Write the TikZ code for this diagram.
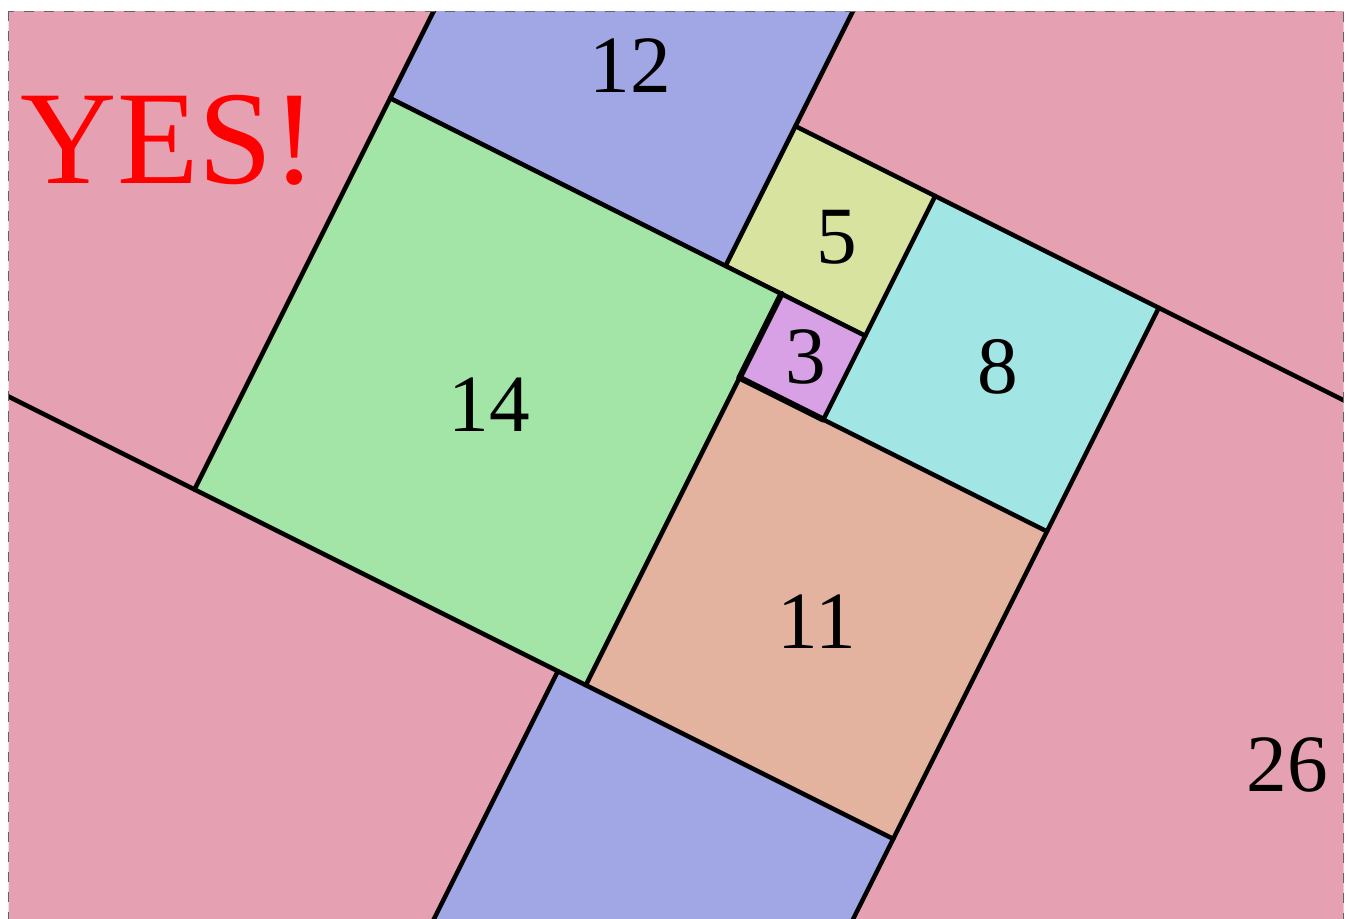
\documentclass[tikz,border=0pt]{standalone}
\usepackage{fontspec}
\setmainfont{Liberation Serif}
\definecolor{cpink}{RGB}{229,160,178}
\definecolor{cblue}{RGB}{161,167,229}
\definecolor{cgreen}{RGB}{162,229,166}
\definecolor{cyellow}{RGB}{216,227,160}
\definecolor{ccyan}{RGB}{161,229,229}
\definecolor{corange}{RGB}{227,179,160}
\definecolor{cpurple}{RGB}{216,161,229}
\definecolor{cframe}{RGB}{100,100,100}
\tikzset{
  edge/.style={line width=3.4pt, line cap=round, black},
  thickedge/.style={line width=4.6pt, line cap=round, black},
  num/.style={inner sep=0pt, font=\fontsize{61}{61}\selectfont},
}
\newcommand{\sqfill}[4]{\fill[#1] (#2,#3) -- ++(#4,0) -- ++(0,#4) -- ++(-#4,0) -- cycle;}
\begin{document}
\begin{tikzpicture}[x=0.75pt,y=-0.75pt]
\useasboundingbox (0,0) rectangle (1348,919);
\begin{scope}
\clip (8.5,11.5) rectangle (1343.5,919);
\fill[cpink] (0,0) rectangle (1348,919);
\begin{scope}[shift={(194.5,489.5)}, x={(20.9625pt,-10.48125pt)}, y={(10.48125pt,20.9625pt)}]
  % squares
  \sqfill{cgreen}{0}{0}{14}
  \sqfill{cblue}{0}{14}{12}
  \sqfill{cblue}{13}{-12}{12}
  \sqfill{cyellow}{12}{14}{5}
  \sqfill{cpurple}{14}{11}{3}
  \sqfill{ccyan}{17}{11}{8}
  \sqfill{corange}{14}{0}{11}
  % corner points
  \coordinate (p00) at (0,0);
  \coordinate (pL) at (-12,0);
  \coordinate (p250) at (25,0);
  \coordinate (p0top) at (0,30);
  \coordinate (p014) at (0,14);
  \coordinate (p1714) at (17,14);
  \coordinate (p1214) at (12,14);
  \coordinate (p12top) at (12,30);
  \coordinate (p140) at (14,0);
  \coordinate (p1411) at (14,11);
  \coordinate (p1414) at (14,14);
  \coordinate (p2511) at (25,11);
  \coordinate (p1711) at (17,11);
  \coordinate (p1719) at (17,19);
  \coordinate (p1219) at (12,19);
  \coordinate (pR) at (50,19);
  \coordinate (p25bot) at (25,-15);
  \coordinate (p2519) at (25,19);
  \coordinate (p130) at (13,0);
  \coordinate (p13bot) at (13,-15);
  % edges
  \draw[edge] (pL) -- (p250);
  \draw[edge] (p00) -- (p0top);
  \draw[edge] (p014) -- (p1714);
  \draw[edge] (p1214) -- (p12top);
  \draw[edge] (p140) -- (p1411);
  \draw[thickedge] (p1411) -- (p1414);
  \draw[thickedge] (p1411) -- (p1711);
  \draw[edge] (p1711) -- (p2511);
  \draw[edge] (p1711) -- (p1719);
  \draw[edge] (p1219) -- (pR);
  \draw[edge] (p25bot) -- (p2519);
  \draw[edge] (p130) -- (p13bot);
\end{scope}
\end{scope}
\draw[cframe, line width=0.9pt, dash pattern=on 7.5pt off 7.5pt] (8.5,11.5) rectangle (1343.5,919.5);
% labels
\node[inner sep=0pt, text=red, font=\fontsize{100}{100}\selectfont] (yes) at (169,140) {YES!};
\node[num] (n12) at (630,66) {12};
\node[num] (n14) at (489,405) {14};
\node[num] (n5) at (837,237) {5};
\node[num] (n3) at (806,357) {3};
\node[num] (n8) at (998,367) {8};
\node[num] (n11) at (817,622) {11};
\node[num] (n26) at (1287,765) {26};
\end{tikzpicture}
\end{document}
